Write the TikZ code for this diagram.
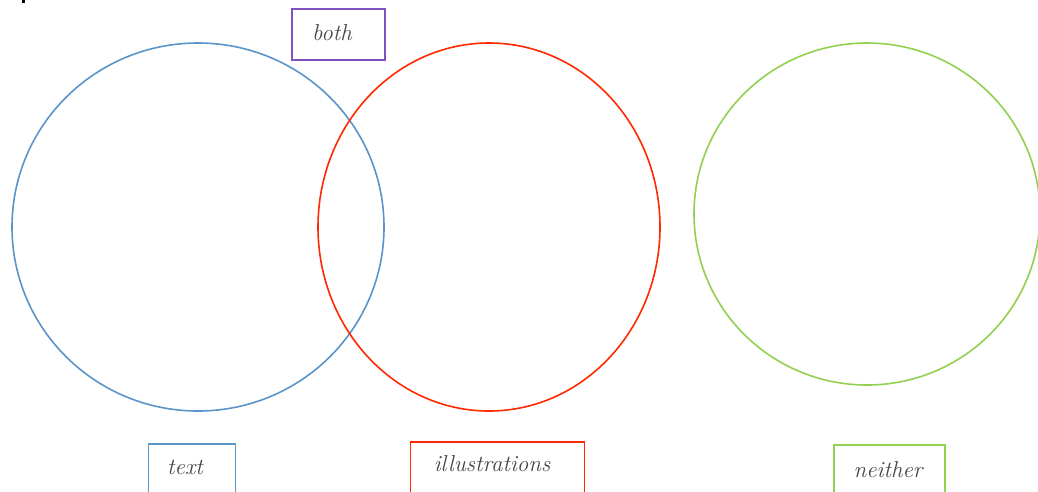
\documentclass[tikz,border=0pt]{standalone}
\usetikzlibrary{positioning}
\definecolor{cblue}{RGB}{91,148,201}
\definecolor{cred}{RGB}{255,40,0}
\definecolor{cgreen}{RGB}{146,208,80}
\definecolor{cpurple}{RGB}{128,80,192}
\definecolor{ctext}{RGB}{70,70,70}
\tikzset{
  ring/.style={line width=1.6pt},
  box/.style={draw, line width=1.6pt, rectangle, inner sep=0pt},
  lbl/.style={text=ctext, font=\fontsize{23}{26}\selectfont\itshape, inner sep=0pt},
}
\begin{document}
\begin{tikzpicture}[x=1pt,y=-1pt]
\useasboundingbox (0,0) rectangle (1038,491);
\clip (0,0) rectangle (1038,491);
\fill[white] (0,0) rectangle (1038,491);
% small mark top-left
\fill[black] (22,0) rectangle (24.5,3);
% circles
\draw[ring, cblue] (198,227) ellipse [x radius=186, y radius=184];
\draw[ring, cred] (489,227) ellipse [x radius=171, y radius=184];
\draw[ring, cgreen] (867,214) ellipse [x radius=173, y radius=171];
% boxes
\node[box, draw=cpurple, minimum width=93, minimum height=51, anchor=north west] (bboth) at (291,8) {};
\node[box, draw=cblue, minimum width=87, minimum height=70, anchor=north west] (btext) at (147.5,443) {};
\node[box, draw=cred, minimum width=174, minimum height=70, anchor=north west] (bill) at (409.5,441) {};
\node[box, draw=cgreen, minimum width=111, minimum height=70, anchor=north west] (bnei) at (833,444) {};
% labels
\node[lbl] (tboth) at (332,33) {both};
\node[lbl] (ttext) at (185,467) {text};
\node[lbl] (till) at (492,464) {illustrations};
\node[lbl] (tnei) at (888,470) {neither};
\end{tikzpicture}
\end{document}
